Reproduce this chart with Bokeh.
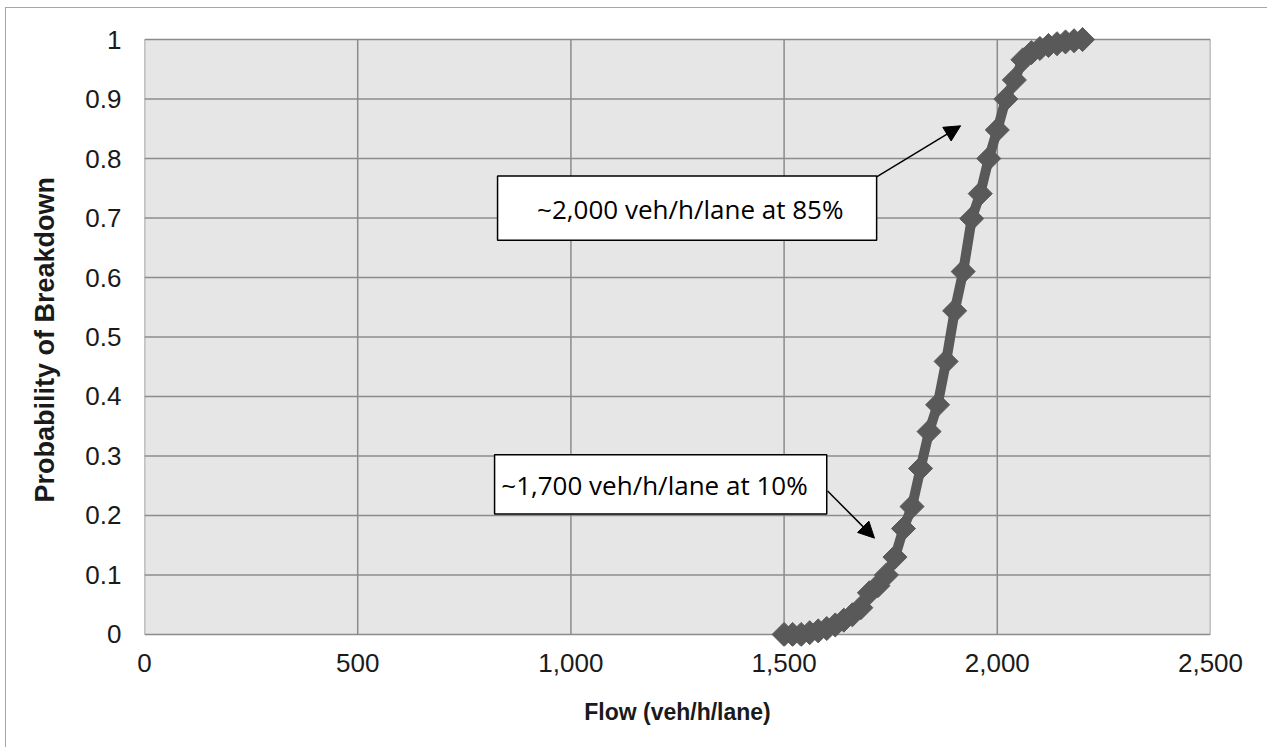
import numpy as np
from bokeh.plotting import figure
from bokeh.models import FixedTicker, NumeralTickFormatter, CustomJSTickFormatter, Arrow, NormalHead, Range1d
from bokeh.core.properties import value
from bokeh.embed import file_html
from bokeh.resources import INLINE

# ---- data ----
flow = [1500, 1520, 1540, 1560, 1580, 1600, 1620, 1640, 1660, 1680, 1700, 1720, 1740,
        1760, 1780, 1800, 1820, 1840, 1860, 1880, 1900, 1920, 1940, 1960, 1980, 2000,
        2020, 2040, 2060, 2080, 2100, 2120, 2140, 2160, 2180, 2200]
prob = [0.0, 0.0, 0.0, 0.003, 0.006, 0.01, 0.016, 0.024, 0.033, 0.045, 0.07, 0.082, 0.10,
        0.13, 0.178, 0.215, 0.279, 0.341, 0.386, 0.459, 0.544, 0.61, 0.699, 0.741, 0.80, 0.848,
        0.90, 0.932, 0.966, 0.978, 0.985, 0.99, 0.993, 0.996, 0.998, 1.0]

x_ticks = [0, 500, 1000, 1500, 2000, 2500]
y_ticks = [0, 0.1, 0.2, 0.3, 0.4, 0.5, 0.6, 0.7, 0.8, 0.9, 1.0]

x_title = "Flow (veh/h/lane)"
y_title = "Probability  of Breakdown"

note_texts = ["~2,000 veh/h/lane at 85%", "~1,700 veh/h/lane at 10%"]
note_x = [1280, 1196]
note_y = [0.716, 0.2513]
box_left = [828, 821]
box_right = [1717, 1600]
box_bottom = [0.6627, 0.2024]
box_top = [0.7707, 0.3019]
arrow_x0 = [1717, 1602]
arrow_y0 = [0.769, 0.2411]
arrow_x1 = [1914, 1712]
arrow_y1 = [0.855, 0.1619]

GRID = "#8c8c8c"
SERIES = "#595959"
PLOT_BG = "#e6e6e6"

# frame is a little taller than the 0..1 plot area so markers at 0 and 1 are not clipped
pad_top = 14 / 593
pad_bottom = 12 / 593

p = figure(width=1262, height=740, output_backend="svg", toolbar_location=None,
           x_range=Range1d(x_ticks[0], x_ticks[-1]),
           y_range=Range1d(y_ticks[0] - pad_bottom, y_ticks[-1] + pad_top),
           min_border_left=138, min_border_right=58, min_border_top=17, min_border_bottom=102)

p.background_fill_color = "white"
p.border_fill_color = "white"
p.outline_line_color = None
p.xgrid.visible = False
p.ygrid.visible = False

p.xaxis.ticker = FixedTicker(ticks=x_ticks)
p.yaxis.ticker = FixedTicker(ticks=y_ticks)
p.xaxis.formatter = NumeralTickFormatter(format="0,0")
p.yaxis.formatter = CustomJSTickFormatter(code="return (Math.round(tick*10)/10).toString();")

for ax in (p.xaxis, p.yaxis):
    ax.axis_line_color = None
    ax.major_tick_line_color = None
    ax.minor_tick_line_color = None
    ax.major_label_text_font = "Liberation Sans"
    ax.major_label_text_font_size = "26px"
    ax.major_label_text_color = "#1a1a1a"
    ax.axis_label_text_font = "Liberation Sans"
    ax.axis_label_text_font_style = "bold"
    ax.axis_label_text_color = "#1a1a1a"

p.xaxis.axis_label = x_title
p.yaxis.axis_label = y_title
p.xaxis.axis_label_text_font_size = "23px"
p.yaxis.axis_label_text_font_size = "27px"
p.xaxis.major_label_standoff = 1
p.yaxis.major_label_standoff = 17
p.xaxis.axis_label_standoff = 24
p.yaxis.axis_label_standoff = 22

# plot area background and grid lines
p.quad(left=[x_ticks[0]], right=[x_ticks[-1]], bottom=[y_ticks[0]], top=[y_ticks[-1]],
       fill_color=PLOT_BG, line_color=None)
p.segment(x0=x_ticks, y0=[y_ticks[0]] * len(x_ticks), x1=x_ticks, y1=[y_ticks[-1]] * len(x_ticks),
          line_color=GRID, line_width=1.5)
p.segment(x0=[x_ticks[0]] * len(y_ticks), y0=y_ticks, x1=[x_ticks[-1]] * len(y_ticks), y1=y_ticks,
          line_color=GRID, line_width=1.5)

p.line(flow, prob, line_color=SERIES, line_width=10)
p.scatter(flow, prob, marker="square", angle=np.pi / 4, size=17,
          fill_color=SERIES, line_color=SERIES)

p.quad(left=box_left, right=box_right, bottom=box_bottom, top=box_top,
       fill_color="white", line_color="black", line_width=1.5)
p.text(x=note_x, y=note_y, text=note_texts, text_font=value("Open Sans"),
       text_font_size="26px", text_align="center", text_baseline="middle", text_color="black")

for i in range(len(arrow_x0)):
    p.add_layout(Arrow(end=NormalHead(size=16, fill_color="black", line_color="black"),
                       x_start=arrow_x0[i], y_start=arrow_y0[i],
                       x_end=arrow_x1[i], y_end=arrow_y1[i],
                       line_color="black", line_width=1.5))

p.styles = {"margin-left": "5px", "margin-top": "7px",
            "border-left": "1.5px solid #a6a6a6", "border-top": "1.5px solid #a6a6a6"}

open("out.html", "w").write(file_html(p, INLINE))
